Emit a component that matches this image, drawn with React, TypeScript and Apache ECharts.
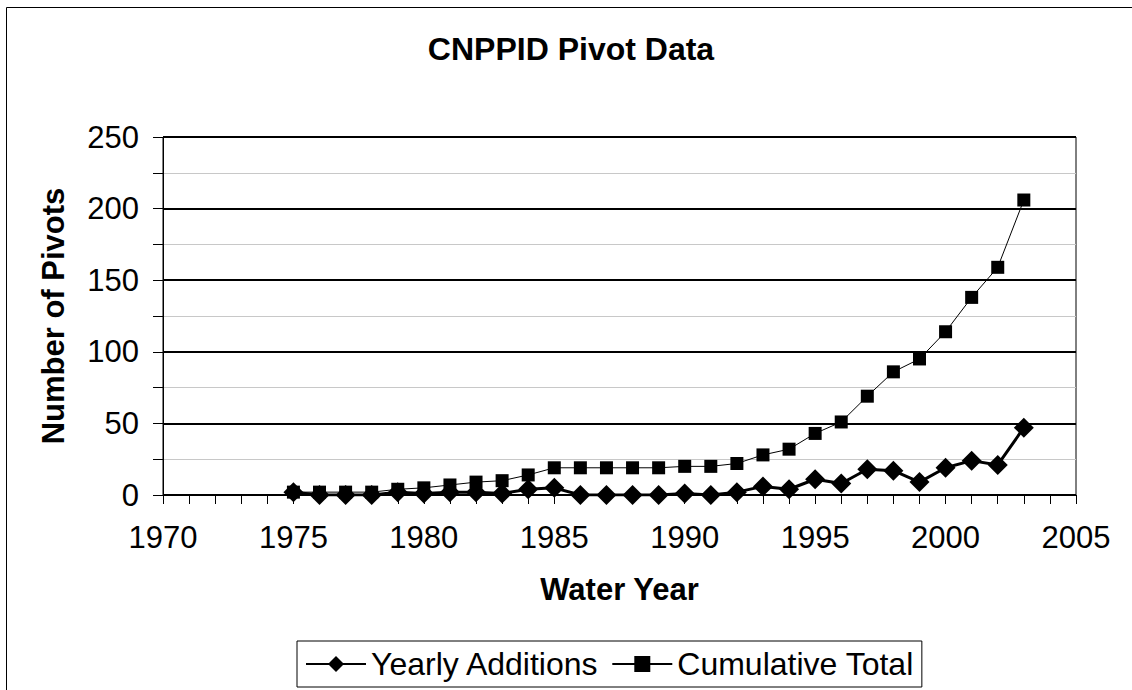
import React, { useEffect, useRef } from "react";
import * as echarts from "echarts";

const years = [1975, 1976, 1977, 1978, 1979, 1980, 1981, 1982, 1983, 1984, 1985, 1986, 1987, 1988, 1989, 1990, 1991, 1992, 1993, 1994, 1995, 1996, 1997, 1998, 1999, 2000, 2001, 2002, 2003];
const yearlyAdditions = [2, 0, 0, 0, 2, 1, 2, 2, 1, 4, 5, 0, 0, 0, 0, 1, 0, 2, 6, 4, 11, 8, 18, 17, 9, 19, 24, 21, 47];
const cumulativeTotal = [2, 2, 2, 2, 4, 5, 7, 9, 10, 14, 19, 19, 19, 19, 19, 20, 20, 22, 28, 32, 43, 51, 69, 86, 95, 114, 138, 159, 206];
const seriesNames = ["Yearly Additions", "Cumulative Total"];
const chartTitle = "CNPPID Pivot Data";
const xTitle = "Water Year";
const yTitle = "Number of Pivots";

const FONT = "'Liberation Sans', Arial, Helvetica, sans-serif";

export default function App() {
  const ref = useRef<HTMLDivElement>(null);
  useEffect(() => {
    if (!ref.current) return;
    const chart = echarts.init(ref.current, null, { renderer: "svg" });
    chart.setOption({
      animation: false,
      backgroundColor: "#fff",
      graphic: [
        {
          type: "rect",
          shape: { x: 6.5, y: 7.5, width: 1140, height: 700 },
          style: { fill: "none", stroke: "#000", lineWidth: 1 },
          silent: true,
          z: -10,
        },
        {
          type: "text",
          x: 571,
          y: 49,
          style: {
            text: chartTitle,
            fill: "#000",
            font: `bold 32px ${FONT}`,
            align: "center",
            verticalAlign: "middle",
          },
        },
      ],
      grid: {
        left: 163,
        top: 137,
        width: 913,
        height: 358,
        show: true,
        borderColor: "#000",
        borderWidth: 1,
        backgroundColor: "transparent",
      },
      legend: {
        data: seriesNames,
        left: 297,
        top: 641,
        orient: "horizontal",
        borderColor: "#000",
        borderWidth: 1,
        padding: [7, 8],
        itemWidth: 60,
        itemHeight: 20,
        itemGap: 12,
        textStyle: { fontSize: 32, color: "#000", fontFamily: FONT },
      },
      xAxis: {
        type: "value",
        min: 1970,
        max: 2005,
        interval: 5,
        name: xTitle,
        nameLocation: "middle",
        nameGap: 79,
        nameTextStyle: { fontSize: 31, fontWeight: "bold", color: "#000", fontFamily: FONT },
        axisLine: { show: true, onZero: false, lineStyle: { color: "#000", width: 1 } },
        axisTick: { show: true, inside: false, length: 9, lineStyle: { color: "#000", width: 1 } },
        minorTick: { show: true, splitNumber: 5, length: 9, lineStyle: { color: "#000", width: 1 } },
        axisLabel: { fontSize: 31, color: "#000", fontFamily: FONT, margin: 27, formatter: (v: number) => String(v) },
        splitLine: { show: false },
      },
      yAxis: {
        type: "value",
        min: 0,
        max: 250,
        interval: 50,
        name: yTitle,
        nameLocation: "middle",
        nameGap: 94,
        nameTextStyle: { fontSize: 31, fontWeight: "bold", color: "#000", fontFamily: FONT },
        axisLine: { show: true, lineStyle: { color: "#000", width: 1 } },
        axisTick: { show: true, inside: false, length: 10, lineStyle: { color: "#000", width: 1 } },
        minorTick: { show: true, splitNumber: 2, length: 10, lineStyle: { color: "#000", width: 1 } },
        axisLabel: { fontSize: 31, color: "#000", fontFamily: FONT, margin: 24 },
        splitLine: { show: true, lineStyle: { color: "#000", width: 2 } },
        minorSplitLine: { show: true, lineStyle: { color: "#c8c8c8", width: 1 } },
      },
      series: [
        {
          name: seriesNames[0],
          type: "line",
          data: years.map((y, i) => [y, yearlyAdditions[i]]),
          symbol: "diamond",
          symbolSize: 20,
          lineStyle: { color: "#000", width: 3 },
          itemStyle: { color: "#000" },
          z: 3,
        },
        {
          name: seriesNames[1],
          type: "line",
          data: years.map((y, i) => [y, cumulativeTotal[i]]),
          symbol: "rect",
          symbolSize: 13,
          lineStyle: { color: "#000", width: 1 },
          itemStyle: { color: "#000" },
          z: 4,
        },
      ],
    });
    return () => chart.dispose();
  }, []);
  return (
    <div
      ref={ref}
      style={{ position: "absolute", left: 0, top: 0, width: 1132, height: 690 }}
    />
  );
}
